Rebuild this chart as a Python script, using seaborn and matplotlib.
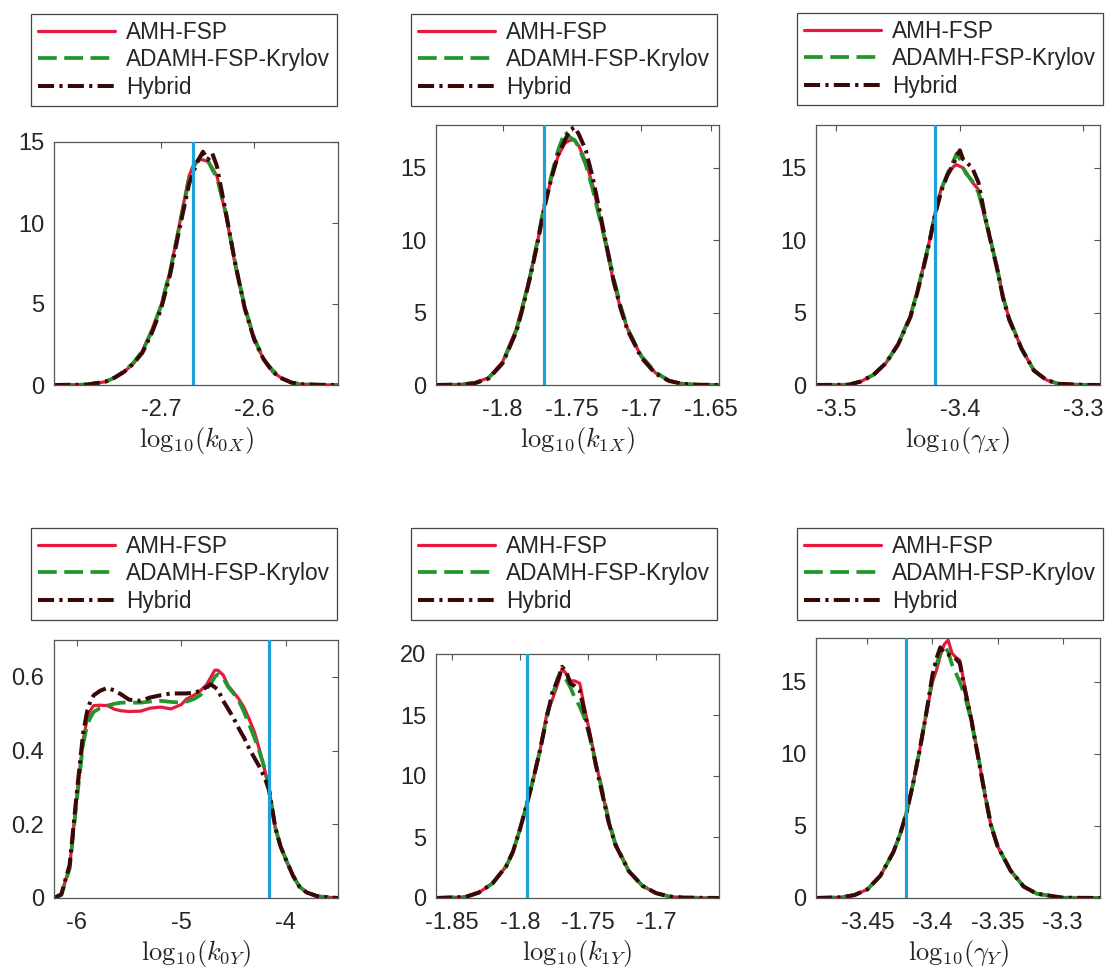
import numpy as np
import pandas as pd
import seaborn as sns
import matplotlib.pyplot as plt

# 方法名称
methods = ['AMH-FSP', 'ADAMH-FSP-Krylov', 'Hybrid']

# ---- k0X ----
x_k0X = [-2.815, -2.78, -2.76, -2.75, -2.74, -2.73, -2.72, -2.71, -2.70, -2.69, -2.68, -2.67, -2.665,
         -2.66, -2.655, -2.65, -2.645, -2.64, -2.63, -2.62, -2.61, -2.60, -2.59, -2.58, -2.57, -2.56,
         -2.55, -2.53, -2.51]
amh_k0X = [0, 0.02, 0.2, 0.45, 0.8, 1.3, 2.1, 3.4, 4.9, 7.1, 10.0, 12.9, 13.6, 13.9, 13.9, 13.8, 13.4,
           12.9, 10.4, 7.3, 4.7, 2.8, 1.6, 0.8, 0.4, 0.15, 0.05, 0.01, 0]
adamh_k0X = [0, 0.03, 0.2, 0.45, 0.85, 1.35, 2.1, 3.3, 4.9, 7.1, 9.9, 12.7, 13.5, 13.9, 14.3, 13.9, 13.3,
             12.8, 10.5, 7.4, 4.8, 2.9, 1.6, 0.9, 0.4, 0.15, 0.05, 0.01, 0]
hyb_k0X = [0, 0.02, 0.2, 0.45, 0.8, 1.3, 2.0, 3.2, 4.7, 6.9, 9.7, 12.4, 13.2, 13.9, 14.4, 13.9, 14.3,
           13.5, 10.5, 7.4, 4.7, 2.8, 1.6, 0.8, 0.4, 0.15, 0.05, 0.01, 0]

# ---- k1X ----
x_k1X = [-1.848, -1.83, -1.82, -1.81, -1.80, -1.79, -1.785, -1.78, -1.775, -1.77, -1.765, -1.76, -1.755,
         -1.7515, -1.748, -1.745, -1.74, -1.735, -1.73, -1.725, -1.72, -1.715, -1.71, -1.70, -1.69,
         -1.68, -1.67, -1.66, -1.644]
amh_k1X = [0, 0.03, 0.15, 0.5, 1.6, 3.9, 5.7, 7.6, 9.8, 12.3, 14.2, 15.8, 16.7, 16.9, 16.9, 16.5, 15.4,
           13.8, 11.6, 9.4, 7.1, 5.3, 3.9, 1.95, 0.85, 0.3, 0.08, 0.02, 0]
adamh_k1X = [0, 0.03, 0.15, 0.5, 1.5, 3.8, 5.6, 7.6, 9.9, 12.4, 14.4, 16.2, 17.5, 17.1, 16.9, 16.4, 15.2,
             13.5, 11.5, 9.6, 7.4, 5.5, 3.9, 2.0, 0.9, 0.3, 0.08, 0.02, 0]
hyb_k1X = [0, 0.03, 0.12, 0.45, 1.5, 3.7, 5.5, 7.5, 9.7, 12.2, 14.2, 15.9, 16.9, 17.6, 17.8, 17.3, 16.2,
           14.3, 12.0, 9.6, 7.2, 5.3, 3.8, 1.9, 0.8, 0.28, 0.07, 0.02, 0]

# ---- gammaX ----
x_gX = [-3.5165, -3.49, -3.48, -3.47, -3.46, -3.45, -3.44, -3.435, -3.43, -3.425, -3.42, -3.415, -3.41,
        -3.405, -3.4025, -3.40, -3.3975, -3.395, -3.39, -3.385, -3.38, -3.375, -3.37, -3.365, -3.36,
        -3.35, -3.34, -3.33, -3.32, -3.30, -3.2865]
amh_gX = [0, 0.02, 0.25, 0.7, 1.5, 2.8, 4.8, 6.3, 8.0, 9.8, 11.9, 13.6, 14.5, 15.1, 15.2, 15.1, 15.0,
          14.7, 14.0, 13.5, 11.6, 9.9, 8.2, 6.0, 4.6, 2.5, 1.0, 0.35, 0.08, 0.01, 0]
adamh_gX = [0, 0.02, 0.25, 0.7, 1.5, 2.8, 4.8, 6.3, 8.0, 9.8, 11.8, 13.5, 14.6, 15.5, 16.0, 15.6, 15.0,
            14.6, 14.1, 13.3, 11.7, 10.0, 8.1, 6.1, 4.6, 2.5, 1.0, 0.35, 0.08, 0.01, 0]
hyb_gX = [0, 0.02, 0.25, 0.7, 1.5, 2.8, 4.7, 6.2, 7.9, 9.7, 11.8, 13.4, 14.5, 15.3, 15.8, 16.2, 15.6,
          15.4, 15.0, 14.0, 11.8, 9.9, 8.1, 6.0, 4.5, 2.5, 1.0, 0.35, 0.08, 0.01, 0]

# ---- k0Y ----
x_k0Y = [-6.22, -6.15, -6.07, -6.0, -5.94, -5.9, -5.87, -5.84, -5.78, -5.71, -5.64, -5.58, -5.5, -5.39,
         -5.3, -5.2, -5.1, -5.0, -4.95, -4.88, -4.82, -4.76, -4.72, -4.68, -4.65, -4.6, -4.55, -4.5,
         -4.45, -4.4, -4.35, -4.3, -4.25, -4.2, -4.16, -4.1, -4.05, -4.0, -3.93, -3.87, -3.8, -3.7,
         -3.6, -3.5]
amh_k0Y = [0, 0.01, 0.085, 0.28, 0.43, 0.49, 0.51, 0.522, 0.523, 0.522, 0.512, 0.508, 0.506, 0.507,
           0.515, 0.518, 0.513, 0.525, 0.54, 0.55, 0.562, 0.578, 0.598, 0.618, 0.618, 0.605, 0.575,
           0.558, 0.54, 0.517, 0.485, 0.45, 0.40, 0.345, 0.295, 0.19, 0.14, 0.105, 0.06, 0.031,
           0.015, 0.005, 0.002, 0]
adamh_k0Y = [0, 0.008, 0.08, 0.27, 0.42, 0.472, 0.49, 0.505, 0.515, 0.522, 0.527, 0.53, 0.53, 0.53,
             0.533, 0.535, 0.532, 0.53, 0.533, 0.54, 0.55, 0.568, 0.58, 0.60, 0.607, 0.597, 0.572,
             0.555, 0.535, 0.505, 0.47, 0.435, 0.395, 0.35, 0.295, 0.19, 0.14, 0.105, 0.06, 0.031,
             0.015, 0.005, 0.002, 0]
hyb_k0Y = [0, 0.01, 0.09, 0.29, 0.45, 0.51, 0.535, 0.55, 0.562, 0.57, 0.563, 0.553, 0.538, 0.535,
           0.544, 0.55, 0.555, 0.555, 0.555, 0.557, 0.562, 0.572, 0.58, 0.572, 0.565, 0.535, 0.512,
           0.488, 0.46, 0.435, 0.405, 0.38, 0.355, 0.325, 0.292, 0.19, 0.14, 0.105, 0.06, 0.031,
           0.015, 0.005, 0.002, 0]

# ---- k1Y ----
x_k1Y = [-1.8615, -1.84, -1.83, -1.82, -1.81, -1.805, -1.80, -1.795, -1.79, -1.785, -1.78, -1.776,
         -1.772, -1.769, -1.766, -1.763, -1.76, -1.756, -1.752, -1.748, -1.744, -1.74, -1.735, -1.73,
         -1.72, -1.71, -1.70, -1.69, -1.68, -1.6538]
amh_k1Y = [0, 0.08, 0.45, 1.2, 2.6, 3.8, 5.6, 7.6, 9.8, 12.2, 15.2, 16.3, 17.6, 18.8, 18.4, 17.8, 17.8,
           17.6, 15.3, 13.2, 11.0, 9.0, 6.3, 4.4, 2.2, 1.0, 0.4, 0.12, 0.03, 0]
adamh_k1Y = [0, 0.08, 0.45, 1.2, 2.6, 3.8, 5.6, 7.6, 9.8, 12.2, 15.0, 16.6, 18.1, 18.3, 17.9, 17.3,
             16.5, 15.7, 14.6, 12.9, 10.9, 9.1, 6.5, 4.5, 2.2, 1.0, 0.4, 0.12, 0.03, 0]
hyb_k1Y = [0, 0.08, 0.45, 1.2, 2.6, 3.8, 5.6, 7.6, 9.8, 12.2, 14.9, 16.9, 17.9, 18.95, 18.6, 17.6,
           17.4, 17.0, 15.0, 13.0, 10.8, 8.8, 6.3, 4.4, 2.2, 1.0, 0.4, 0.12, 0.03, 0]

# ---- gammaY ----
x_gY = [-3.4895, -3.47, -3.46, -3.45, -3.44, -3.43, -3.425, -3.42, -3.415, -3.41, -3.405, -3.40,
        -3.397, -3.394, -3.391, -3.388, -3.385, -3.382, -3.379, -3.375, -3.37, -3.365, -3.36, -3.355,
        -3.35, -3.34, -3.33, -3.32, -3.30, -3.2713]
amh_gY = [0, 0.05, 0.2, 0.6, 1.55, 3.2, 4.4, 5.9, 7.9, 10.2, 12.7, 15.0, 15.8, 16.8, 17.6, 17.9, 17.0,
          16.7, 16.5, 14.6, 12.4, 9.9, 7.3, 5.0, 3.6, 1.9, 0.8, 0.3, 0.02, 0]
adamh_gY = [0, 0.05, 0.2, 0.6, 1.55, 3.2, 4.4, 5.9, 7.9, 10.2, 12.7, 15.3, 16.2, 17.0, 17.5, 17.1, 16.2,
            15.6, 15.0, 14.0, 12.2, 9.9, 7.4, 5.1, 3.6, 1.9, 0.8, 0.3, 0.02, 0]
hyb_gY = [0, 0.05, 0.2, 0.6, 1.55, 3.2, 4.4, 5.9, 7.9, 10.2, 12.7, 15.5, 16.6, 17.4, 17.0, 16.9, 16.8,
          16.6, 16.3, 14.4, 12.3, 9.8, 7.3, 5.0, 3.6, 1.9, 0.8, 0.3, 0.02, 0]

# 真实参数值 (蓝色竖线)
true_vals = [-2.666, -1.770, -3.42, -4.16, -1.795, -3.42]
xlabels = [r'$\mathrm{log}_{10}(k_{0X})$', r'$\mathrm{log}_{10}(k_{1X})$', r'$\mathrm{log}_{10}(\gamma_X)$',
           r'$\mathrm{log}_{10}(k_{0Y})$', r'$\mathrm{log}_{10}(k_{1Y})$', r'$\mathrm{log}_{10}(\gamma_Y)$']
xticks = [[-2.7, -2.6], [-1.8, -1.75, -1.7, -1.65], [-3.5, -3.4, -3.3],
          [-6, -5, -4], [-1.85, -1.8, -1.75, -1.7], [-3.45, -3.4, -3.35, -3.3]]
yticks = [[0, 5, 10, 15], [0, 5, 10, 15], [0, 5, 10, 15],
          [0, 0.2, 0.4, 0.6], [0, 5, 10, 15, 20], [0, 5, 10, 15]]

panels = [(x_k0X, [amh_k0X, adamh_k0X, hyb_k0X]),
          (x_k1X, [amh_k1X, adamh_k1X, hyb_k1X]),
          (x_gX, [amh_gX, adamh_gX, hyb_gX]),
          (x_k0Y, [amh_k0Y, adamh_k0Y, hyb_k0Y]),
          (x_k1Y, [amh_k1Y, adamh_k1Y, hyb_k1Y]),
          (x_gY, [amh_gY, adamh_gY, hyb_gY])]

# 坐标轴范围
xlims = [(-2.815, -2.51), (-1.848, -1.644), (-3.5165, -3.2865),
         (-6.22, -3.5), (-1.8615, -1.6538), (-3.4895, -3.2713)]
ylims = [(0, 15), (0, 17.95), (0, 17.95), (0, 0.7), (0, 20), (0, 18.05)]

# 位置 (像素, 1110x973)
W, H = 1110, 973
ax_px = [(54, 142, 338, 385), (436, 125, 719, 385), (816, 125, 1100, 385),
         (54, 640, 338, 898), (436, 654, 719, 898), (816, 638, 1100, 898)]
leg_px = [(31, 14), (411, 14), (797, 13), (31, 528), (411, 528), (797, 528)]

palette = {'AMH-FSP': '#e8193f', 'ADAMH-FSP-Krylov': '#21962b', 'Hybrid': '#3a0808'}
dash_map = {'AMH-FSP': '', 'ADAMH-FSP-Krylov': (5.0, 2.0), 'Hybrid': (4.0, 1.3, 0.8, 1.3)}
widths = {'AMH-FSP': 2.3, 'ADAMH-FSP-Krylov': 2.7, 'Hybrid': 2.9}

sns.set_style('white')
plt.rcParams['font.family'] = ['Liberation Sans', 'DejaVu Sans']
plt.rcParams['mathtext.fontset'] = 'cm'
plt.rcParams['axes.unicode_minus'] = False

fig = plt.figure(figsize=(W / 100, H / 100), dpi=100)

for i, (xs, ys) in enumerate(panels):
    x0, y0, x1, y1 = ax_px[i]
    ax = fig.add_axes([x0 / W, 1 - y1 / H, (x1 - x0) / W, (y1 - y0) / H])
    df = pd.DataFrame({'x': np.tile(xs, 3),
                       'density': np.concatenate(ys),
                       'method': np.repeat(methods, len(xs))})
    sns.lineplot(data=df, x='x', y='density', hue='method', style='method',
                 hue_order=methods, style_order=methods, palette=palette, dashes=dash_map,
                 estimator=None, sort=False, legend=False, ax=ax)
    for line, m in zip(ax.lines, methods):
        line.set_linewidth(widths[m])
    handles = list(ax.lines[:3])
    ax.axvline(true_vals[i], color='#1ea0da', lw=2.3, zorder=5)

    ax.set_xlim(*xlims[i])
    ax.set_ylim(*ylims[i])
    ax.set_xticks(xticks[i], labels=['%g' % t for t in xticks[i]])
    ax.set_yticks(yticks[i], labels=['%g' % t for t in yticks[i]])
    ax.set_xlabel(xlabels[i], fontsize=19, color='#262626', labelpad=3)
    ax.set_ylabel('')
    ax.tick_params(direction='in', top=True, right=True, length=4.5, width=0.8,
                   color='#555555', labelcolor='#262626', labelsize=17)
    ax.tick_params(axis='x', pad=10)
    ax.tick_params(axis='y', pad=7)
    for sp in ax.spines.values():
        sp.set_color('#555555')
        sp.set_linewidth(0.9)

    lx, ly = leg_px[i]
    leg = ax.legend(handles, methods, loc='upper left', bbox_to_anchor=(lx / W, 1 - ly / H),
                    bbox_transform=fig.transFigure, borderaxespad=0, fancybox=False,
                    framealpha=1, edgecolor='#444444', fontsize=16.3, handlelength=3.4,
                    handletextpad=0.5, labelspacing=0.2, borderpad=0.3)
    leg.get_frame().set_linewidth(0.9)

fig.savefig('out.png', dpi=100)
